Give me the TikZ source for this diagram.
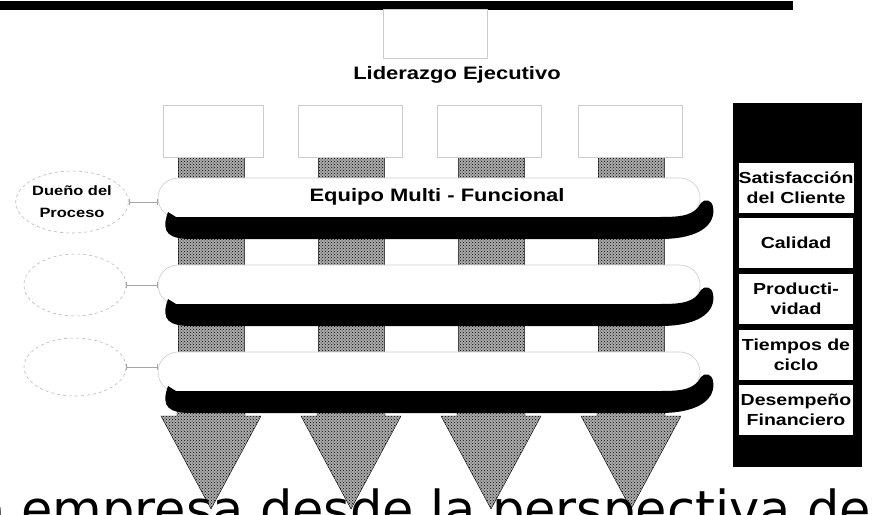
\documentclass[tikz,border=0pt]{standalone}
\usepackage{fontspec}
\usetikzlibrary{patterns,arrows.meta,shapes.geometric}
\newfontfamily\lblfont{Liberation Sans Bold}[FakeStretch=1.22]
\newfontfamily\capfont{DejaVu Sans}

\tikzset{
  faintbox/.style={draw=gray!40, line width=0.6pt, fill=white, inner sep=0pt},
  hatch/.style={fill=gray!65, postaction={pattern=crosshatch dots, pattern color=black}},
  teampill/.style={draw=gray!40, line width=0.6pt, fill=white, rounded corners=20pt,
    minimum width=542pt, minimum height=40pt, inner sep=0pt},
  owner/.style={ellipse, draw=gray!55, dashed, line width=0.6pt, minimum width=98pt,
    minimum height=62pt, inner sep=0pt, align=center, font=\lblfont\fontsize{13.5}{22}\selectfont},
  metric/.style={fill=white, minimum width=114pt, minimum height=50pt, inner sep=0pt,
    align=center, font=\lblfont\fontsize{16}{20}\selectfont},
  link/.style={draw=gray!70, line width=0.6pt, {Bar[width=6pt]}-{Bar[width=6pt]}},
}

\begin{document}
\begin{tikzpicture}[x=1pt,y=-1pt]
  \useasboundingbox (0,0) rectangle (874,514);
  \clip (0,0) rectangle (874,514);

  % top bar and executive box
  \fill (0,1) rectangle (793,10);
  \node[faintbox, minimum width=104pt, minimum height=49pt] (exec) at (435,34) {};
  \node[font=\lblfont\fontsize{18}{20}\selectfont] (lead) at (457,75) {Liderazgo Ejecutivo};

  % pillars and funnels
  \foreach \c in {211,351,491,631} {
    \path[hatch, draw=black!70] (\c-33,157) rectangle (\c+33,412);
    \path[hatch, draw=black] (\c-34,405) -- (\c+34,405) -- (\c+34,416) -- (\c+50,416)
      -- (\c,509) -- (\c-50,416) -- (\c-34,416) -- cycle;
  }

  % function boxes
  \node[faintbox, minimum width=100pt, minimum height=52pt] (fun1) at (213,131) {};
  \node[faintbox, minimum width=104pt, minimum height=52pt] (fun2) at (350,131) {};
  \node[faintbox, minimum width=104pt, minimum height=52pt] (fun3) at (489,131) {};
  \node[faintbox, minimum width=104pt, minimum height=52pt] (fun4) at (630,131) {};

  % process bands
  \foreach \t/\n in {178/1,265/2,352/3} {
    \node[teampill] (team\n) at (429,\t+20) {};
    \fill (168,\t+34) .. controls (160,\t+56) and (170,\t+61) .. (192,\t+61)
      -- (660,\t+61) .. controls (702,\t+61) and (716,\t+45) .. (713,\t+29)
      .. controls (712,\t+22) and (705,\t+20) .. (701,\t+25)
      .. controls (694,\t+37) and (684,\t+39) .. (660,\t+39) -- (176,\t+39) -- cycle;
  }
  \node[font=\lblfont\fontsize{18}{20}\selectfont] (teamlbl) at (437,197) {Equipo Multi - Funcional};

  % process owners
  \node[owner] (own1) at (72,202) {Dueño del\\Proceso};
  \node[owner, minimum width=102pt] (own2) at (75,285) {};
  \node[owner, minimum width=102pt, minimum height=58pt] (own3) at (75,367) {};
  \draw[link] (own1.east) -- (own1.east -| team1.west);
  \draw[link] (own2.east) -- (own2.east -| team2.west);
  \draw[link] (own3.east) -- (own3.east -| team3.west);

  % results panel
  \fill (733,103) rectangle (862,467);
  \node[metric] (res1) at (796,188) {Satisfacción\\del Cliente};
  \node[metric] (res2) at (796,243) {Calidad};
  \node[metric] (res3) at (796,299) {Producti-\\vidad};
  \node[metric] (res4) at (796,355) {Tiempos de\\ciclo};
  \node[metric] (res5) at (796,410) {Desempeño\\Financiero};

  \node[anchor=base east, inner sep=0pt, font=\capfont\fontsize{51}{60}\selectfont] (caption)
    at (871,527) {a empresa desde la perspectiva de};
\end{tikzpicture}
\end{document}
